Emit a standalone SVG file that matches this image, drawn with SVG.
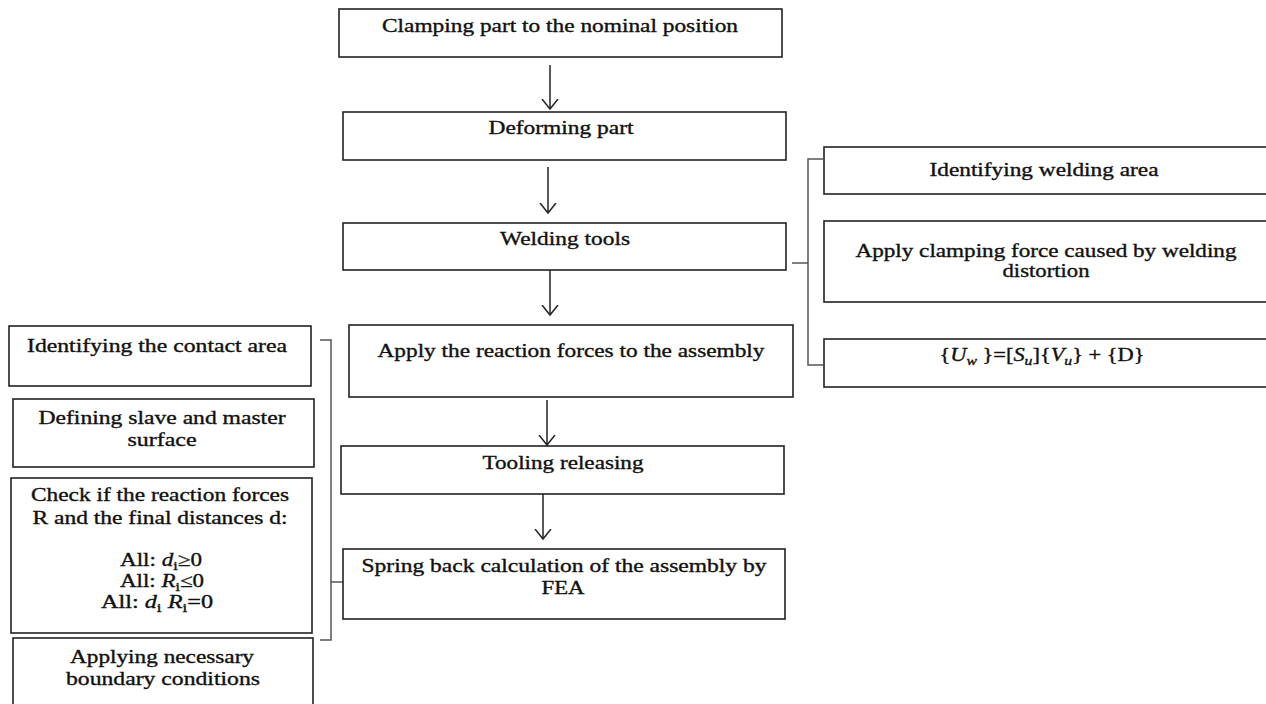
<svg xmlns="http://www.w3.org/2000/svg" width="1266" height="704" viewBox="0 0 1266 704">
<style>
.box{fill:#fff;stroke:#222;stroke-width:1.6}
.t{font-family:"Liberation Serif","Times New Roman",serif;font-size:18.5px;fill:#111;stroke:#111;stroke-width:0.35;text-anchor:middle}
.m{font-style:italic}
.conn{fill:none;stroke:#222;stroke-width:1.5}
.brace{fill:none;stroke:#555;stroke-width:1.5}
</style>
<defs>
<marker id="ah" markerWidth="20" markerHeight="20" refX="10" refY="10" orient="auto" markerUnits="userSpaceOnUse">
<polyline points="0,2 10,10 0,18" fill="none" stroke="#222" stroke-width="1.5"/>
</marker>
</defs>
<rect width="1266" height="704" fill="#fff"/>
<g id="connectors">
<line class="conn" x1="550" y1="65" x2="550" y2="109" marker-end="url(#ah)"/>
<line class="conn" x1="548" y1="167" x2="548" y2="213" marker-end="url(#ah)"/>
<line class="conn" x1="550" y1="270" x2="550" y2="315" marker-end="url(#ah)"/>
<line class="conn" x1="547" y1="400" x2="547" y2="445" marker-end="url(#ah)"/>
<line class="conn" x1="543" y1="494" x2="543" y2="539" marker-end="url(#ah)"/>
<path class="brace" d="M823,159 H808 V365 H823 M792,263 H808"/>
<path class="brace" d="M320,340 H331 V640 H320 M331,582 H343"/>
</g>
<g id="n1"><rect class="box" x="339" y="9" width="443" height="48"/><text class="t" x="560" y="32" textLength="356" lengthAdjust="spacingAndGlyphs">Clamping part to the nominal position</text></g>
<g id="n2"><rect class="box" x="343" y="112" width="443" height="48"/><text class="t" x="561" y="134" textLength="145" lengthAdjust="spacingAndGlyphs">Deforming part</text></g>
<g id="n3"><rect class="box" x="343" y="223" width="443" height="47"/><text class="t" x="565" y="245" textLength="130" lengthAdjust="spacingAndGlyphs">Welding tools</text></g>
<g id="n4"><rect class="box" x="349" y="325" width="444" height="72"/><text class="t" x="571" y="357" textLength="387" lengthAdjust="spacingAndGlyphs">Apply the reaction forces to the assembly</text></g>
<g id="n5"><rect class="box" x="341" y="446" width="443" height="48"/><text class="t" x="563" y="469" textLength="161" lengthAdjust="spacingAndGlyphs">Tooling releasing</text></g>
<g id="n6"><rect class="box" x="343" y="549" width="442" height="70"/><text class="t" x="564" y="572" textLength="405" lengthAdjust="spacingAndGlyphs">Spring back calculation of the assembly by</text><text class="t" x="563" y="594" textLength="43" lengthAdjust="spacingAndGlyphs">FEA</text></g>
<g id="r1"><rect class="box" x="824" y="147" width="460" height="47"/><text class="t" x="1044" y="176" textLength="229" lengthAdjust="spacingAndGlyphs">Identifying welding area</text></g>
<g id="r2"><rect class="box" x="824" y="221" width="460" height="81"/><text class="t" x="1046" y="257" textLength="381" lengthAdjust="spacingAndGlyphs">Apply clamping force caused by welding</text><text class="t" x="1046" y="277" textLength="87" lengthAdjust="spacingAndGlyphs">distortion</text></g>
<g id="r3"><rect class="box" x="824" y="339" width="460" height="48"/><text class="t" x="1042" y="361" textLength="205" lengthAdjust="spacingAndGlyphs">{<tspan class="m">U</tspan><tspan class="m" font-size="13" dy="4">w</tspan><tspan dy="-4"> }=[</tspan><tspan class="m">S</tspan><tspan class="m" font-size="13" dy="4">u</tspan><tspan dy="-4">]{</tspan><tspan class="m">V</tspan><tspan class="m" font-size="13" dy="4">u</tspan><tspan dy="-4">} + {D}</tspan></text></g>
<g id="l1"><rect class="box" x="9" y="326" width="302" height="60"/><text class="t" x="157" y="352" textLength="260" lengthAdjust="spacingAndGlyphs">Identifying the contact area</text></g>
<g id="l2"><rect class="box" x="13" y="399" width="301" height="68"/><text class="t" x="162" y="424" textLength="247" lengthAdjust="spacingAndGlyphs">Defining slave and master</text><text class="t" x="162" y="446" textLength="69" lengthAdjust="spacingAndGlyphs">surface</text></g>
<g id="l3"><rect class="box" x="11" y="478" width="301" height="155"/>
<text class="t" x="160" y="501" textLength="258" lengthAdjust="spacingAndGlyphs">Check if the reaction forces</text>
<text class="t" x="160" y="524" textLength="255" lengthAdjust="spacingAndGlyphs">R and the final distances d:</text>
<text class="t" x="161" y="566" textLength="82" lengthAdjust="spacingAndGlyphs">All:  <tspan class="m">d</tspan><tspan font-size="13" dy="4">i</tspan><tspan dy="-4">≥0</tspan></text>
<text class="t" x="162" y="587" textLength="84" lengthAdjust="spacingAndGlyphs">All:  <tspan class="m">R</tspan><tspan font-size="13" dy="4">i</tspan><tspan dy="-4">≤0</tspan></text>
<text class="t" x="157" y="608" textLength="112" lengthAdjust="spacingAndGlyphs">All:  <tspan class="m">d</tspan><tspan font-size="13" dy="4">i</tspan><tspan dy="-4">  </tspan><tspan class="m">R</tspan><tspan font-size="13" dy="4">i</tspan><tspan dy="-4">=0</tspan></text>
</g>
<g id="l4"><rect class="box" x="13" y="638" width="300" height="80"/><text class="t" x="162" y="663" textLength="184" lengthAdjust="spacingAndGlyphs">Applying necessary</text><text class="t" x="163" y="685" textLength="194" lengthAdjust="spacingAndGlyphs">boundary conditions</text></g>
</svg>
